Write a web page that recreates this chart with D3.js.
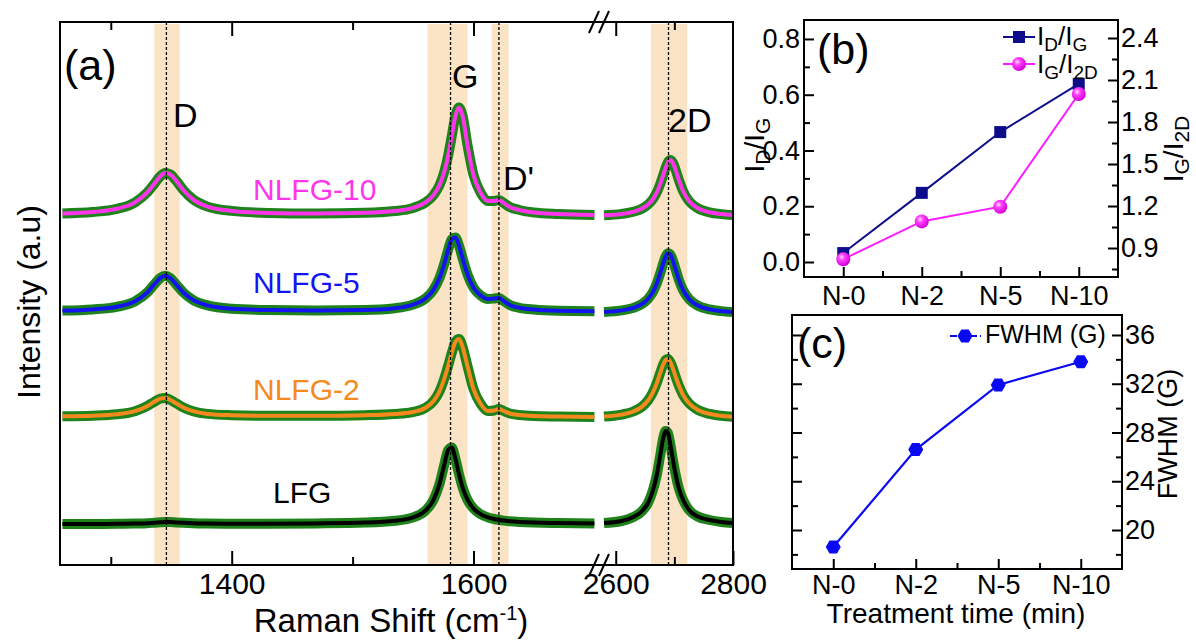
<!DOCTYPE html>
<html>
<head>
<meta charset="utf-8">
<script src="https://cdn.jsdelivr.net/npm/d3@7"></script>
<style>
body { margin: 0; background: #fff; }
svg { display: block; font-family: "Liberation Sans", Arial, sans-serif; }
</style>
</head>
<body>
<svg id="chart" width="1196" height="642"></svg>
<script>
// ---- panel (a): Raman spectra (a.u.) ----
var leftShift = [1260, 1285, 1305, 1320, 1330, 1336, 1341, 1345, 1349, 1354, 1360, 1368, 1380, 1400, 1430, 1470, 1510, 1535, 1550, 1560,
                 1567, 1572, 1576, 1579, 1582, 1585, 1588, 1591, 1595, 1600, 1606, 1612, 1617, 1621, 1625, 1630, 1638, 1650, 1670, 1700];
var rightShift = [2580, 2610, 2630, 2645, 2655, 2663, 2670, 2676, 2681, 2685, 2689, 2693, 2697, 2702, 2708, 2715, 2725, 2740, 2760, 2780, 2800];

var lfgLeft = [41, 41, 41.2, 41.5, 41.8, 42.3, 42.7, 43, 43, 42.6, 42.2, 41.8, 41.5, 41.3, 41.3, 41.6, 42.4, 44.2, 47.6, 54.1,
               65.3, 81.6, 101.3, 114.8, 117.5, 106.4, 90.9, 77.5, 65.3, 56.4, 50.7, 47.6, 46, 45.1, 44.4, 43.8, 43.1, 42.4, 41.9, 41.5];
var nlfg2Left = [148.7, 149.3, 150.7, 153.8, 158.8, 163.2, 166.4, 166.9, 165.3, 161.7, 157.5, 153.8, 151.1, 149.8, 149.2, 149.2, 149.8, 151, 153, 157,
                 164, 174, 187, 199, 212, 223, 226, 218, 199, 176, 161, 154, 154.5, 156, 154, 151.5, 150, 149, 148.5, 148];
var nlfg5Left = [254.4, 255.6, 258.2, 263.7, 272.4, 280.6, 287.1, 289.3, 287.2, 280.7, 272.5, 265.1, 259.6, 256.3, 255, 254.6, 255, 256.8, 260.4, 266.3,
                 275.4, 287.4, 302, 315.1, 325.6, 327.4, 319.4, 306.6, 290.7, 277.3, 269.5, 266, 266.5, 267.1, 264, 260, 257.2, 255.4, 254.2, 253.8];
var nlfg10Left = [351.6, 353, 356.2, 362.6, 372.3, 381.2, 388.7, 391.9, 390.7, 384.4, 375, 365.7, 358.4, 354.1, 352.1, 351.6, 352.2, 354, 357.1, 362.3,
                  369.9, 380.1, 394, 409.2, 428.8, 448.8, 457.5, 449, 420, 390, 372, 364, 364, 365, 362, 358, 355, 352.5, 351, 350];

var lfgRight = [42, 44, 48, 54, 62, 74, 90, 110, 127, 134, 132, 121, 107, 91, 76, 65, 55, 48.5, 45, 43, 42];
var nlfg2Right = [148.4, 150.4, 153.5, 158.4, 164.5, 172.2, 181.9, 192.3, 200.5, 204.9, 205.9, 203, 197.4, 188.7, 178.9, 169.9, 161.7, 155.1, 151.1, 149.2, 148.2];
var nlfg5Right = [253, 254.6, 257.1, 261.1, 266, 272.6, 281.5, 291.9, 301.7, 308.4, 311.8, 310.7, 305.3, 295.9, 284.7, 274.8, 266, 259.4, 255.6, 253.9, 253];
var nlfg10Right = [349.7, 351.1, 353.2, 356.4, 360.4, 365.5, 372.6, 381.1, 389.9, 397.1, 402.8, 405, 402.8, 395.4, 384.5, 373.8, 364, 356.7, 352.7, 350.9, 349.9];

var sampleNames = ["LFG", "NLFG-2", "NLFG-5", "NLFG-10"];
var sampleColors = ["#000000", "#f5891e", "#1414f0", "#ff35ec"];

var bandNames = ["D", "G", "D'", "2D"];
var bandCenter = [1346, 1581, 1621, 2690];
var bandLow = [1336, 1562, 1615, 2660];
var bandHigh = [1357, 1595, 1629, 2722];

// ---- panel (b) and (c) ----
var treatment = ["N-0", "N-2", "N-5", "N-10"];
var idOverIg = [0.032, 0.248, 0.466, 0.639];
var igOverI2d = [0.82, 1.09, 1.195, 2.0];
var fwhmG = [18.6, 26.6, 31.9, 33.8];

var svg = d3.select("#chart");
var defs = svg.append("defs");

function richText(sel, parts, big, small) {
	// parts: [text, "sub" | "sup" | ""]
	var prev = 0;
	parts.forEach(function(p) {
		var shift = p[1] == "sub" ? 6 : (p[1] == "sup" ? -12 : 0);
		sel.append("tspan")
		 .attr("dy", shift - prev)
		 .attr("font-size", p[1] ? small : big)
		 .text(p[0]);
		prev = shift;
	});
	return sel;
}

// ================= panel (a) =================
var aL = 60, aR = 733, aT = 22, aB = 565;
var xL = d3.scaleLinear().domain([1258, 1698]).range([aL, 592]);
var xR = d3.scaleLinear().domain([2580, 2800]).range([604, aR]);
var yA = d3.scaleLinear().domain([0, 543]).range([aB, aT]);
function xAny(v) { return v > 2000 ? xR(v) : xL(v); }

var pa = svg.append("g");

// shaded bands + dashed peak lines
pa.selectAll("rect.band")
 .data(bandCenter)
 .enter()
 .append("rect")
 .attr("class", "band")
 .attr("x", function(d, i) { return xAny(bandLow[i]); })
 .attr("width", function(d, i) { return xAny(bandHigh[i]) - xAny(bandLow[i]); })
 .attr("y", aT + 2)
 .attr("height", aB - aT - 3)
 .attr("fill", "#fbe4c6");

var leftSeries = [lfgLeft, nlfg2Left, nlfg5Left, nlfg10Left];
var rightSeries = [lfgRight, nlfg2Right, nlfg5Right, nlfg10Right];

var lineL = d3.line().x(function(d) { return xL(d[0]); }).y(function(d) { return yA(d[1]); }).curve(d3.curveMonotoneX);
var lineR = d3.line().x(function(d) { return xR(d[0]); }).y(function(d) { return yA(d[1]); }).curve(d3.curveMonotoneX);

sampleNames.forEach(function(name, i) {
	var l = d3.zip(leftShift, leftSeries[i]);
	var r = d3.zip(rightShift, rightSeries[i]);
	[[l, lineL], [r, lineR]].forEach(function(seg) {
		pa.append("path")
		 .attr("d", seg[1](seg[0]))
		 .attr("fill", "none")
		 .attr("stroke", "#1f831c")
		 .attr("stroke-width", 10)
		 .attr("stroke-linejoin", "round");
		pa.append("path")
		 .attr("d", seg[1](seg[0]))
		 .attr("fill", "none")
		 .attr("stroke", sampleColors[i])
		 .attr("stroke-width", 4)
		 .attr("stroke-linejoin", "round");
	});
});

pa.selectAll("line.peak")
 .data(bandCenter)
 .enter()
 .append("line")
 .attr("class", "peak")
 .attr("x1", function(d) { return xAny(d); })
 .attr("x2", function(d) { return xAny(d); })
 .attr("y1", aT)
 .attr("y2", aB)
 .attr("stroke", "#000")
 .attr("stroke-width", 1.3)
 .attr("stroke-dasharray", "3,2");

// sample labels
var labelPos = [[273, 503], [253, 400], [253, 293], [253, 200]];
sampleNames.forEach(function(name, i) {
	pa.append("text")
	 .attr("x", labelPos[i][0])
	 .attr("y", labelPos[i][1])
	 .attr("font-size", 30)
	 .attr("fill", sampleColors[i])
	 .text(name);
});

// band labels
var bandLabelPos = [[173, 127], [452, 88], [503, 190], [668, 132]];
bandNames.forEach(function(name, i) {
	pa.append("text")
	 .attr("x", bandLabelPos[i][0])
	 .attr("y", bandLabelPos[i][1])
	 .attr("font-size", 34)
	 .text(name);
});

// axes (ticks inward, top mirrored)
function tickAxis(axis, y, vals, size, fmt) {
	var g = pa.append("g")
	 .attr("transform", "translate(0," + y + ")")
	 .call(axis.tickValues(vals).tickSize(size).tickPadding(8).tickFormat(fmt));
	g.select(".domain").remove();
	g.selectAll("line").attr("stroke-width", 2);
	g.selectAll("text").attr("font-size", 30).attr("font-family", "Liberation Sans, Arial, sans-serif");
	return g;
}
var noLabel = function() { return ""; };
tickAxis(d3.axisBottom(xL), aB, [1400, 1600], -14, d3.format("d"));
tickAxis(d3.axisBottom(xL), aB, [1300, 1500], -8, noLabel);
tickAxis(d3.axisBottom(xR), aB, [2600, 2800], -14, d3.format("d"));
tickAxis(d3.axisBottom(xR), aB, [2700], -8, noLabel);
tickAxis(d3.axisTop(xL), aT, [1400, 1600], -14, noLabel);
tickAxis(d3.axisTop(xL), aT, [1300, 1500], -8, noLabel);
tickAxis(d3.axisTop(xR), aT, [2600], -14, noLabel);
tickAxis(d3.axisTop(xR), aT, [2700], -8, noLabel);

pa.append("rect")
 .attr("x", aL).attr("y", aT)
 .attr("width", aR - aL).attr("height", aB - aT)
 .attr("fill", "none")
 .attr("stroke", "#000")
 .attr("stroke-width", 2);

// axis break marks
[aT, aB].forEach(function(y) {
	[0, 10].forEach(function(dx) {
		pa.append("line")
		 .attr("x1", 589 + dx).attr("y1", y + 11)
		 .attr("x2", 599 + dx).attr("y2", y - 11)
		 .attr("stroke", "#000")
		 .attr("stroke-width", 2);
	});
});

pa.append("text")
 .attr("x", 64).attr("y", 80)
 .attr("font-size", 43)
 .text("(a)");

pa.append("text")
 .attr("transform", "translate(40,302) rotate(-90)")
 .attr("text-anchor", "middle")
 .attr("font-size", 32)
 .text("Intensity (a.u)");

richText(pa.append("text")
 .attr("x", 391).attr("y", 632)
 .attr("text-anchor", "middle"),
 [["Raman Shift (cm", ""], ["-1", "sup"], [")", ""]], 33, 20);

// ================= panel (b) =================
var bL = 804, bR = 1118, bT = 20, bB = 277;
var xB = d3.scaleLinear().domain([-0.5, 3.5]).range([bL, bR]);
var yB1 = d3.scaleLinear().domain([-0.0538, 0.868]).range([bB, bT]);
var yB2 = d3.scaleLinear().domain([0.693, 2.5286]).range([bB, bT]);

var pb = svg.append("g");

function smallAxis(g, axis, tr, vals, size, pad, fmt) {
	var a = g.append("g")
	 .attr("transform", tr)
	 .call(axis.tickValues(vals).tickSize(size).tickPadding(pad).tickFormat(fmt));
	a.select(".domain").remove();
	a.selectAll("line").attr("stroke-width", 2);
	a.selectAll("text").attr("font-size", 27).attr("font-family", "Liberation Sans, Arial, sans-serif");
	return a;
}
var idx = [0, 1, 2, 3];
smallAxis(pb, d3.axisBottom(xB), "translate(0," + bB + ")", idx, -10, 9, function(d) { return treatment[d]; });
smallAxis(pb, d3.axisBottom(xB), "translate(0," + bB + ")", [0.5, 1.5, 2.5], -6, 9, noLabel);
smallAxis(pb, d3.axisLeft(yB1), "translate(" + bL + ",0)", [0, 0.2, 0.4, 0.6, 0.8], -10, 4, d3.format(".1f"));
smallAxis(pb, d3.axisLeft(yB1), "translate(" + bL + ",0)", [0.1, 0.3, 0.5, 0.7], -6, 4, noLabel);
smallAxis(pb, d3.axisRight(yB2), "translate(" + bR + ",0)", [0.9, 1.2, 1.5, 1.8, 2.1, 2.4], -10, 3, d3.format(".1f"));
smallAxis(pb, d3.axisRight(yB2), "translate(" + bR + ",0)", [0.75, 1.05, 1.35, 1.65, 1.95, 2.25], -6, 3, noLabel);

pb.append("rect")
 .attr("x", bL).attr("y", bT)
 .attr("width", bR - bL).attr("height", bB - bT)
 .attr("fill", "none")
 .attr("stroke", "#000")
 .attr("stroke-width", 2);

var grad = defs.append("radialGradient").attr("id", "sphere")
 .attr("cx", "38%").attr("cy", "35%").attr("r", "65%");
grad.append("stop").attr("offset", "0%").attr("stop-color", "#ffe0ff");
grad.append("stop").attr("offset", "35%").attr("stop-color", "#ff40ff");
grad.append("stop").attr("offset", "100%").attr("stop-color", "#d400d4");

var navy = "#0d0d8c", magenta = "#ff1aff";

pb.append("path")
 .attr("d", d3.line().x(function(d, i) { return xB(i); }).y(function(d) { return yB1(d); })(idOverIg))
 .attr("fill", "none").attr("stroke", navy).attr("stroke-width", 2);
pb.append("path")
 .attr("d", d3.line().x(function(d, i) { return xB(i); }).y(function(d) { return yB2(d); })(igOverI2d))
 .attr("fill", "none").attr("stroke", magenta).attr("stroke-width", 2);

pb.selectAll("rect.sq")
 .data(idOverIg)
 .enter()
 .append("rect")
 .attr("class", "sq")
 .attr("x", function(d, i) { return xB(i) - 6; })
 .attr("y", function(d) { return yB1(d) - 6; })
 .attr("width", 12).attr("height", 12)
 .attr("fill", navy);

pb.selectAll("circle.sph")
 .data(igOverI2d)
 .enter()
 .append("circle")
 .attr("class", "sph")
 .attr("cx", function(d, i) { return xB(i); })
 .attr("cy", function(d) { return yB2(d); })
 .attr("r", 7)
 .attr("fill", "url(#sphere)");

// legend (b)
pb.append("line").attr("x1", 1003).attr("x2", 1035).attr("y1", 37).attr("y2", 37)
 .attr("stroke", navy).attr("stroke-width", 2);
pb.append("rect").attr("x", 1013).attr("y", 31).attr("width", 12).attr("height", 12).attr("fill", navy);
richText(pb.append("text").attr("x", 1037).attr("y", 45),
 [["I", ""], ["D", "sub"], ["/", ""], ["I", ""], ["G", "sub"]], 26, 19);
pb.append("line").attr("x1", 1003).attr("x2", 1035).attr("y1", 64).attr("y2", 64)
 .attr("stroke", magenta).attr("stroke-width", 2);
pb.append("circle").attr("cx", 1019).attr("cy", 64).attr("r", 7).attr("fill", "url(#sphere)");
richText(pb.append("text").attr("x", 1037).attr("y", 73),
 [["I", ""], ["G", "sub"], ["/", ""], ["I", ""], ["2D", "sub"]], 26, 19);

pb.append("text")
 .attr("x", 817).attr("y", 64)
 .attr("font-size", 43)
 .text("(b)");

richText(pb.append("text")
 .attr("transform", "translate(764,145) rotate(-90)")
 .attr("text-anchor", "middle"),
 [["I", ""], ["D", "sub"], ["/", ""], ["I", ""], ["G", "sub"]], 28, 21);
richText(pb.append("text")
 .attr("transform", "translate(1183,149) rotate(-90)")
 .attr("text-anchor", "middle"),
 [["I", ""], ["G", "sub"], ["/", ""], ["I", ""], ["2D", "sub"]], 28, 21);

// ================= panel (c) =================
var cL = 792, cR = 1122, cT = 315, cB = 569;
var xC = d3.scaleLinear().domain([-0.5, 3.5]).range([cL, cR]);
var yC = d3.scaleLinear().domain([16.8, 37.64]).range([cB, cT]);

var pc = svg.append("g");
smallAxis(pc, d3.axisBottom(xC), "translate(0," + cB + ")", idx, -10, 6, function(d) { return treatment[d]; });
smallAxis(pc, d3.axisBottom(xC), "translate(0," + cB + ")", [0.5, 1.5, 2.5], -6, 6, noLabel);
smallAxis(pc, d3.axisRight(yC), "translate(" + cR + ",0)", [20, 24, 28, 32, 36], -10, 3, d3.format("d"));
smallAxis(pc, d3.axisRight(yC), "translate(" + cR + ",0)", [18, 22, 26, 30, 34], -6, 3, noLabel);
smallAxis(pc, d3.axisLeft(yC), "translate(" + cL + ",0)", [20, 24, 28, 32, 36], -10, 3, noLabel);
smallAxis(pc, d3.axisLeft(yC), "translate(" + cL + ",0)", [18, 22, 26, 30, 34], -6, 3, noLabel);

pc.append("rect")
 .attr("x", cL).attr("y", cT)
 .attr("width", cR - cL).attr("height", cB - cT)
 .attr("fill", "none")
 .attr("stroke", "#000")
 .attr("stroke-width", 2);

var blue = "#0a0af2";
var hexPts = d3.range(6).map(function(k) {
	var a = k * Math.PI / 3;
	return [7.5 * Math.cos(a), 7.5 * Math.sin(a)];
});
var hexPath = d3.line()(hexPts) + "Z";

pc.append("path")
 .attr("d", d3.line().x(function(d, i) { return xC(i); }).y(function(d) { return yC(d); })(fwhmG))
 .attr("fill", "none").attr("stroke", blue).attr("stroke-width", 2.2);

pc.selectAll("path.hex")
 .data(fwhmG)
 .enter()
 .append("path")
 .attr("class", "hex")
 .attr("transform", function(d, i) { return "translate(" + xC(i) + "," + yC(d) + ")"; })
 .attr("d", hexPath)
 .attr("fill", blue);

// legend (c)
pc.append("line").attr("x1", 950).attr("x2", 981).attr("y1", 336).attr("y2", 336)
 .attr("stroke", blue).attr("stroke-width", 2).attr("stroke-dasharray", "7,3");
pc.append("path").attr("transform", "translate(965,336)").attr("d", hexPath).attr("fill", blue);
pc.append("text").attr("x", 985).attr("y", 343).attr("font-size", 25).text("FWHM (G)");

pc.append("text")
 .attr("x", 797).attr("y", 358)
 .attr("font-size", 43)
 .text("(c)");

pc.append("text")
 .attr("transform", "translate(1177,434) rotate(-90)")
 .attr("text-anchor", "middle")
 .attr("font-size", 27)
 .text("FWHM (G)");

pc.append("text")
 .attr("x", 956).attr("y", 623)
 .attr("text-anchor", "middle")
 .attr("font-size", 28)
 .text("Treatment time (min)");
</script>
</body>
</html>
